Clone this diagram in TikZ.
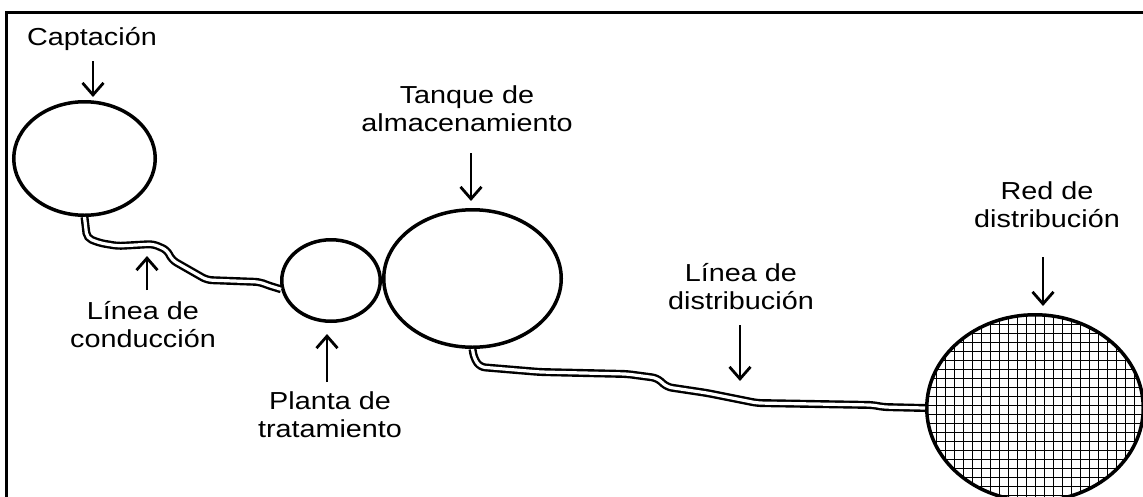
\documentclass[tikz,border=0pt]{standalone}
\usepackage{fontspec}
\setmainfont{Liberation Sans}[FakeStretch=1.17]
\usetikzlibrary{shapes.geometric,arrows.meta}
\begin{document}
\begin{tikzpicture}[x=1pt,y=-1pt,
 lbl/.style={font=\fontsize{24.6}{28.5}\selectfont, inner sep=0pt, align=center, text=black},
 tank/.style={ellipse, draw, line width=3.5pt, inner sep=0pt},
 pipe/.style={draw=black, line width=2.4pt, double=white, double distance=3.2pt, rounded corners=5pt},
 arr/.style={line width=2.8pt, -{Straight Barb[length=12pt,width=21pt]}}]
\useasboundingbox (0,0) rectangle (1143,496);
\fill[white] (0,0) rectangle (1143,496);
\draw[line width=3pt] (6.5,520) -- (6.5,12.5) -- (1160,12.5);
% tanks
\node[tank, minimum width=141.5pt, minimum height=113.5pt] (capt) at (84.5,158.5) {};
\node[tank, minimum width=98.5pt, minimum height=81.5pt] (planta) at (331,280.5) {};
\node[tank, minimum width=177.5pt, minimum height=137.5pt] (tanque) at (472.5,278.5) {};
\begin{scope}
\clip (1035,408) ellipse [x radius=108.5, y radius=93.5];
\draw[line width=1.1pt, step=9pt, shift={(0.5,0.5)}] (918,297) grid (1152,513);
\end{scope}
\node[tank, minimum width=216.5pt, minimum height=186.5pt] (red) at (1035,408) {};
% pipes
\draw[pipe] (capt.south) -- (87,238) -- (100,243) -- (118,246) -- (153,244) -- (167,250) -- (172,260) -- (207,280) -- (260,282) -- (267,285) -- (planta.190);
\draw[pipe] (tanque.south) -- (474,358) -- (480,367) -- (540,372) -- (627,374) -- (657,378) -- (667,387) -- (707,393) -- (757,403) -- (873,405) -- (883,407) -- (red.west);
% labels
\node[lbl, anchor=base] (lcapt) at (92,45) {Captación};
\node[lbl, anchor=south] (lcond) at (143,348) {Línea de\\conducción};
\node[lbl, anchor=south] (lplanta) at (330,438) {Planta de\\tratamiento};
\node[lbl, anchor=south] (ltanque) at (467,132) {Tanque de\\almacenamiento};
\node[lbl, anchor=south] (ldist) at (741,310) {Línea de\\distribución};
\node[lbl, anchor=south] (lred) at (1047,228) {Red de\\distribución};
% pointer arrows
\coordinate (a1s) at (93,61);   \coordinate (a1e) at (93,97);
\coordinate (a2s) at (147,290); \coordinate (a2e) at (147,256);
\coordinate (a3s) at (327,382); \coordinate (a3e) at (327,334);
\coordinate (a4s) at (471,153); \coordinate (a4e) at (471,201);
\coordinate (a5s) at (740,325); \coordinate (a5e) at (740,381);
\coordinate (a6s) at (1043,257); \coordinate (a6e) at (1043,306);
\draw[arr] (a1s) -- (a1e);
\draw[arr] (a2s) -- (a2e);
\draw[arr] (a3s) -- (a3e);
\draw[arr] (a4s) -- (a4e);
\draw[arr] (a5s) -- (a5e);
\draw[arr] (a6s) -- (a6e);
\end{tikzpicture}
\end{document}
